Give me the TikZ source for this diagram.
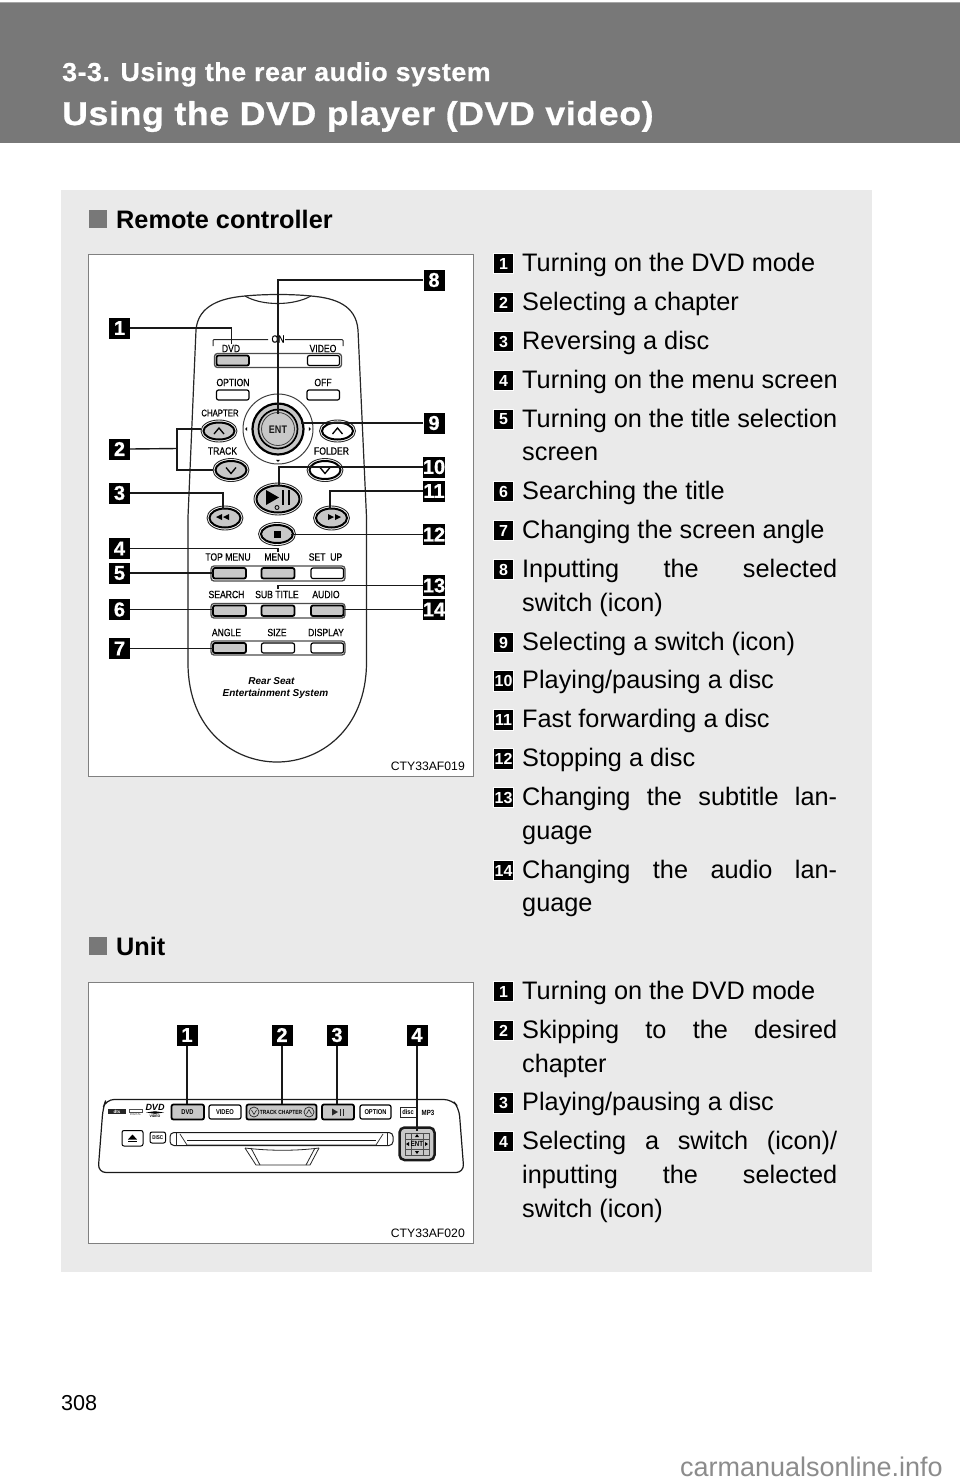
\documentclass[tikz,border=0pt]{standalone}
\usepackage{fontspec}
\setmainfont{Liberation Sans}
\newfontfamily\titlef[FakeStretch=1.08,LetterSpace=2,FakeBold=0.8]{Liberation Sans Bold}
\newfontfamily\subf[FakeStretch=1.03,LetterSpace=2,FakeBold=0.6]{Liberation Sans Bold}
\newfontfamily\condf[FakeStretch=0.82,FakeBold=0.4]{Liberation Sans}
\newfontfamily\condb[FakeStretch=0.82]{Liberation Sans Bold}
\newfontfamily\badgef[FakeBold=0.8]{Liberation Sans Bold}
\newcommand{\fs}[1]{\fontsize{#1pt}{#1pt}\selectfont}
\definecolor{bandc}{HTML}{787878}
\definecolor{panelc}{HTML}{EAEAEA}
\definecolor{framec}{HTML}{808080}
\definecolor{keyc}{HTML}{C8C8C8}
\tikzset{
  lab/.style={inner sep=0pt,font=\condf\fs{10.5},text=black},
  listtext/.style={anchor=base west,inner sep=0pt,font=\fs{25.3}},
  head/.style={anchor=base west,inner sep=0pt,font=\bfseries\fs{25.3}},
  listbadge/.style={fill=black,draw=white,line width=0.6pt,minimum size=20.5pt,inner sep=0pt,text=white,font=\bfseries\fs{16}},
  picbadge/.style={fill=black,draw=none,minimum size=21pt,inner sep=0pt,text=white,font=\badgef\fs{20}},
  lead/.style={draw=black!90,line width=1.4pt},
  framebox/.style={draw=framec,fill=white,line width=1pt},
  keyg/.style={draw=black,fill=keyc,line width=1.8pt,rounded corners=2pt},
  keyw/.style={draw=black,fill=white,line width=1.2pt,rounded corners=2pt},
  strip/.style={draw=black!70,fill=white,line width=1.3pt,rounded corners=3pt},
  codetxt/.style={inner sep=0pt,font=\fs{12.2},text=black},
}
\newcommand{\itemln}[5][listtext]{% name y num text
  \node[listbadge] (#2b) at (503.5,#3-7.5) {#4};
  \node[#1] (#2t) at (522,#3) {#5};}
\newcommand{\contln}[3]{\node[listtext] (#1) at (522,#2) {#3};}
\newcommand{\itemjust}[4]{%
  \node[listbadge] (#1b) at (503.5,#2-7.5) {#3};
  \node[listtext] (#1t) at (522,#2) {\makebox[315pt][s]{#4}};}
\newcommand{\ovalbtn}[5]{% x y rx ry fill
  \draw[black!85,line width=0.9pt,fill=white] (#1,#2) circle[x radius=#3,y radius=#4];
  \draw[black,line width=2pt,fill=#5] (#1,#2) circle[x radius=#3-2.5,y radius=#4-2.5];}
\begin{document}
\begin{tikzpicture}[x=1pt,y=-1pt]
\useasboundingbox (0,0) rectangle (960,1484);
\fill[white] (0,0) rectangle (960,1484);
% header band
\fill[black!35] (0,2) rectangle (960,3);
\fill[bandc] (0,3) rectangle (960,143);
\node[anchor=base west,inner sep=0pt,text=white,font=\subf\fs{26}] (sub) at (62,81) {3-3. Using the rear audio system};
\node[anchor=base west,inner sep=0pt,text=white,font=\titlef\fs{33}] (title) at (62,125) {Using the DVD player (DVD video)};
% panel
\fill[panelc] (61,190) rectangle (872,1272);
\fill[bandc] (89,210) rectangle (107,228);
\node[head] (h1) at (116,228) {Remote controller};
\fill[bandc] (89,937) rectangle (107,955);
\node[head] (h2) at (116,955) {Unit};
% list 1
\itemln{a}{271}{1}{Turning on the DVD mode}
\itemln{b}{310}{2}{Selecting a chapter}
\itemln{c}{349}{3}{Reversing a disc}
\itemln{d}{388}{4}{Turning on the menu screen}
\itemjust{e}{427}{5}{Turning on the title selection}
\contln{e2}{460}{screen}
\itemln{f}{499}{6}{Searching the title}
\itemln{g}{538}{7}{Changing the screen angle}
\itemjust{h}{577}{8}{Inputting the selected}
\contln{h2}{611}{switch (icon)}
\itemln{i}{650}{9}{Selecting a switch (icon)}
\itemln{j}{688.5}{10}{Playing/pausing a disc}
\itemln{k}{727.5}{11}{Fast forwarding a disc}
\itemln{l}{766.5}{12}{Stopping a disc}
\itemjust{m}{805}{13}{Changing the subtitle lan-}
\contln{m2}{839}{guage}
\itemjust{n}{878}{14}{Changing the audio lan-}
\contln{n2}{911.5}{guage}
% list 2
\itemln{p}{999}{1}{Turning on the DVD mode}
\itemjust{q}{1038}{2}{Skipping to the desired}
\contln{q2}{1072}{chapter}
\itemln{r}{1110.5}{3}{Playing/pausing a disc}
\itemjust{s}{1149}{4}{Selecting a switch (icon)/}
\node[listtext] (s2) at (522,1183) {\makebox[315pt][s]{inputting the selected}};
\contln{s3}{1217}{switch (icon)}
% frames
\draw[framebox] (88,254.5) rectangle (473,776);
\draw[framebox] (88,982) rectangle (473,1243);
% ---------- remote
\draw[black!85,line width=1.2pt]
  (188,663) -- (188,517) -- (196,330)
  .. controls (198,305) and (222,298) .. (245,296)
  .. controls (265,294) and (292,294) .. (311,296)
  .. controls (335,298) and (356,305) .. (358,330)
  -- (366.5,517) -- (366.5,663)
  .. controls (366,730) and (320,762) .. (277,762)
  .. controls (234,762) and (188,730) .. (188,663);
\draw[black!85,line width=1.1pt] (245,296) .. controls (262,306) and (293,306) .. (311,296);
% ON bracket
\draw[black!85,line width=1pt,rounded corners=1pt] (213,346) -- (213,339.5) -- (268,339.5);
\draw[black!85,line width=1pt,rounded corners=1pt] (343,346) -- (343,339.5) -- (285,339.5);
\node[lab] (lon) at (278,339) {ON};
\node[lab] (ldvd) at (231,348.5) {DVD};
\node[lab] (lvideo) at (323,348.5) {VIDEO};
\draw[strip] (214.5,353.5) rectangle (341.5,367.5);
\draw[keyg] (216.5,355.5) rectangle (249,365.5);
\draw[keyw] (307.5,355.5) rectangle (339.5,365.5);
\node[lab] (lopt) at (233,382.5) {OPTION};
\node[lab] (loff) at (323,382.5) {OFF};
\draw[keyw] (216.5,390) rectangle (249,400);
\draw[keyw] (307,390) rectangle (339.5,400);
% dial
\draw[black!75,line width=1pt,fill=white] (278,429) circle[radius=35];
\draw[black,line width=2.2pt,fill=keyc] (278,429) circle[radius=25.5];
\draw[black,line width=1.7pt,fill=keyc] (278,429) circle[radius=19.5];
\draw[black!75,line width=0.8pt] (278,429) circle[radius=16.5];
\node[inner sep=0pt,font=\condb\fs{11},text=black!90] (lent) at (278,429.5) {ENT};
\fill (245,429) -- (247.2,427) -- (247.2,431) -- cycle;
\fill (311,429) -- (308.8,427) -- (308.8,431) -- cycle;
\fill (278,462) -- (276,459.8) -- (280,459.8) -- cycle;
\node[inner sep=0pt,font=\condf\fs{9.5},text=black] (lchap) at (220,413) {CHAPTER};
\node[lab] (ltrack) at (222.5,451) {TRACK};
\node[lab] (lfold) at (331.5,451) {FOLDER};
% oval keys
\ovalbtn{219}{431}{18}{11}{keyc}
\draw[black,line width=1.3pt] (214,434) -- (219,428) -- (224,434);
\ovalbtn{231}{470}{18}{11.5}{keyc}
\draw[black,line width=1.3pt] (226,467.5) -- (231,473.5) -- (236,467.5);
\ovalbtn{337.5}{431}{18}{11}{white}
\draw[black,line width=1.3pt] (332.5,434) -- (337.5,428) -- (342.5,434);
\ovalbtn{325}{470}{18}{11.5}{white}
\draw[black,line width=1.3pt] (320,467.5) -- (325,473.5) -- (330,467.5);
\ovalbtn{278}{499}{24}{16}{keyc}
\fill (266,490) -- (266,505) -- (279,497.5) -- cycle;
\fill (282,490) rectangle (284.2,505);
\fill (288,490) rectangle (290.2,505);
\draw[black,line width=0.8pt] (277,507.5) circle[radius=2];
\ovalbtn{225}{518}{18}{12}{keyc}
\fill (222,514) -- (222,520) -- (216,517) -- cycle;
\fill (229,514) -- (229,520) -- (223,517) -- cycle;
\ovalbtn{331.5}{518}{18}{12}{keyc}
\fill (328,514) -- (328,520) -- (334,517) -- cycle;
\fill (335,514) -- (335,520) -- (341,517) -- cycle;
\ovalbtn{277}{534}{18.5}{11.5}{keyc}
\fill (273.5,530.5) rectangle (280.5,537.5);
% rows
\node[lab] (l1a) at (228,557) {TOP MENU};
\node[lab] (l1b) at (277,557) {MENU};
\node[lab] (l1c) at (325.5,557) {SET\ \ UP};
\draw[strip] (211,566) rectangle (345,581);
\draw[keyg] (213,568) rectangle (246,578.5);
\draw[keyg] (261.5,568) rectangle (294.5,578.5);
\draw[keyw] (311,568) rectangle (343.5,578.5);
\node[lab] (l2a) at (226.5,594.5) {SEARCH};
\node[lab] (l2b) at (277,594.5) {SUB TITLE};
\node[lab] (l2c) at (326,594.5) {AUDIO};
\draw[strip] (211,603.5) rectangle (345,618);
\draw[keyg] (213,605.5) rectangle (246,616);
\draw[keyg] (261.5,605.5) rectangle (294.5,616);
\draw[keyg] (311,605.5) rectangle (343.5,616);
\node[lab] (l3a) at (226.5,632.5) {ANGLE};
\node[lab] (l3b) at (277,632.5) {SIZE};
\node[lab] (l3c) at (326,632.5) {DISPLAY};
\draw[strip] (211,641) rectangle (345,655);
\draw[keyg] (213,643) rectangle (246,653);
\draw[keyw] (261.5,643) rectangle (294.5,653);
\draw[keyw] (311,643) rectangle (343.5,653);
\node[inner sep=0pt,font=\bfseries\itshape\fs{10},text=black] (rs1) at (271.5,681) {Rear Seat};
\node[inner sep=0pt,font=\bfseries\itshape\fs{10},text=black] (rs2) at (275.5,694) {Entertainment System};
\node[codetxt,anchor=east] (code1) at (465,766.5) {CTY33AF019};
% remote badges
\node[picbadge] (b1) at (119.5,328) {1};
\node[picbadge] (b2) at (119.5,449) {2};
\node[picbadge] (b3) at (119.5,493) {3};
\node[picbadge] (b4) at (119.5,548.5) {4};
\node[picbadge] (b5) at (119.5,573) {5};
\node[picbadge] (b6) at (119.5,609.5) {6};
\node[picbadge] (b7) at (119.5,648.5) {7};
\node[picbadge] (b8) at (434,280) {8};
\node[picbadge] (b9) at (434,423) {9};
\node[picbadge] (b10) at (434,467) {10};
\node[picbadge] (b11) at (434,491) {11};
\node[picbadge] (b12) at (434,534.5) {12};
\node[picbadge] (b13) at (434,585.5) {13};
\node[picbadge] (b14) at (434,609.5) {14};
% targets
\coordinate (t1) at (231.5,343.5);
\coordinate (t2a) at (201,429);
\coordinate (t2b) at (213,470);
\coordinate (t2m) at (177,448.5);
\coordinate (t3) at (223,509);
\coordinate (t4) at (278,552);
\coordinate (t5) at (213,573);
\coordinate (t6) at (213,609.5);
\coordinate (t7) at (213,648.5);
\coordinate (t8) at (278,414);
\coordinate (t9) at (301,423);
\coordinate (t10) at (279,486);
\coordinate (t11) at (330,509);
\coordinate (t12) at (291,534.5);
\coordinate (t13) at (278,589);
\coordinate (t14) at (343,609.5);
\draw[lead] (b1.east) -| (t1);
\draw[lead] (b2.east) -- (t2m);
\draw[lead] (t2a) -| (t2m) |- (t2b);
\draw[lead] (b3.east) -| (t3);
\draw[lead] (b4.east) -| (t4);
\draw[lead] (b5.east) -- (t5);
\draw[lead] (b6.east) -- (t6);
\draw[lead] (b7.east) -- (t7);
\draw[lead] (b8.west) -| (t8);
\draw[lead] (b9.west) -- (t9);
\draw[lead] (b10.west) -| (t10);
\draw[lead] (b11.west) -| (t11);
\draw[lead] (b12.west) -- (t12);
\draw[lead] (b13.west) -| (t13);
\draw[lead] (b14.west) -- (t14);
% ---------- unit
\draw[black!90,line width=1.2pt,rounded corners=8pt]
  (98,1172.5) -- (103,1108) -- (106,1099.5) -- (452,1099.5) -- (459,1108) -- (464,1172.5) -- cycle;
\draw[keyg] (171.5,1104.5) rectangle (204,1119.5);
\draw[keyw] (209,1105) rectangle (241,1119);
\draw[keyg] (246.5,1104.5) rectangle (316.5,1119.5);
\draw[keyg] (322,1104.5) rectangle (354,1119.5);
\draw[keyw] (360,1105) rectangle (391,1119);
\tikzset{ulab/.style={inner sep=0pt,font=\condb\fs{7},text=black}}
\node[ulab] (udvd) at (187.5,1112) {DVD};
\node[ulab] (uvideo) at (225,1112) {VIDEO};
\node[ulab,font=\condb\fs{6}] (utrack) at (281,1112) {TRACK CHAPTER};
\draw[black!85,line width=0.7pt] (254,1112) circle[radius=5];
\draw[black!85,line width=0.7pt] (309,1112) circle[radius=5];
\draw[black!85,line width=0.6pt] (251.5,1110) -- (254,1114.5) -- (256.5,1110);
\draw[black!85,line width=0.6pt] (306.5,1114) -- (309,1109.5) -- (311.5,1114);
\fill[black!85] (332,1108.5) -- (332,1115.5) -- (338,1112) -- cycle;
\fill[black!85] (340,1108.5) rectangle (341,1115.5);
\fill[black!85] (343,1108.5) rectangle (344,1115.5);
\node[ulab] (uopt) at (375.5,1112) {OPTION};
% logos
\fill[black!85] (108,1109) rectangle (126,1114);
\node[inner sep=0pt,text=white,font=\bfseries\fs{4.5}] (ldts) at (117,1111.5) {dts};
\draw[black!70,line width=0.5pt] (129,1109) rectangle (142,1112);
\node[inner sep=0pt,text=black!70,font=\fs{3}] (ldol) at (135.5,1114) {DIGITAL};
\node[inner sep=0pt,font=\bfseries\itshape\fs{9}] (ldvdl) at (155,1107.5) {DVD};
\fill (146,1112.5) -- (155,1111.2) -- (164,1112.5) -- (155,1113.8) -- cycle;
\node[inner sep=0pt,font=\bfseries\fs{3.5}] (lvidl) at (155,1116) {VIDEO};
\draw[black!85,line width=0.7pt] (400,1107) rectangle (416,1117);
\node[inner sep=0pt,font=\condb\fs{7}] (ldisc) at (408,1111.5) {disc};
\node[inner sep=0pt,font=\condb\fs{7.5}] (lmp3) at (428,1112.5) {MP3};
% eject, disc
\draw[keyw,line width=1pt] (122,1130.5) rectangle (143,1146);
\fill (132.5,1134.5) -- (128,1139.5) -- (137,1139.5) -- cycle;
\fill (128,1141) rectangle (137,1142.3);
\draw[keyw,line width=1pt] (150,1132) rectangle (165.5,1143);
\node[inner sep=0pt,font=\condb\fs{5.5}] (udisc) at (157.7,1137.5) {DISC};
% slot
\draw[black!90,line width=1pt,rounded corners=4pt] (170,1132.5) rectangle (393,1145.5);
\draw[black!85,line width=0.8pt] (176,1132.5) -- (176,1145.5);
\draw[black!85,line width=0.8pt] (387,1132.5) -- (387,1145.5);
\draw[black!85,line width=0.7pt] (180,1134) -- (187,1145) -- (376,1145) -- (383,1134);
\draw[black!90,line width=1.3pt] (187,1140.5) -- (376,1140.5);
\draw[black!85,line width=0.8pt] (245,1148) -- (256,1165) -- (310,1165) -- (319,1148);
\draw[black!85,line width=0.8pt] (251,1148) -- (260,1165);
\draw[black!85,line width=0.8pt] (315,1148) -- (306,1165);
\draw[black!85,line width=0.8pt] (245,1148) .. controls (270,1151) and (296,1151) .. (319,1148);
% pad
\draw[black!90,fill=keyc,line width=2.5pt,rounded corners=5pt] (399.5,1127.5) rectangle (434.5,1160);
\draw[black!70,line width=0.6pt] (405,1133) rectangle (429,1155);
\draw[black!70,line width=0.6pt] (411,1133) -- (411,1155) (423,1133) -- (423,1155) (405,1139) -- (429,1139) (405,1149) -- (429,1149);
\node[inner sep=0pt,font=\condb\fs{7.5}] (uent) at (417,1144) {ENT};
\fill (417,1134) -- (415,1137) -- (419,1137) -- cycle;
\fill (417,1154) -- (415,1151) -- (419,1151) -- cycle;
\fill (406,1144) -- (409,1142) -- (409,1146) -- cycle;
\fill (428,1144) -- (425,1142) -- (425,1146) -- cycle;
\node[codetxt,anchor=east] (code2) at (465,1233) {CTY33AF020};
% unit badges
\node[picbadge] (u1) at (187,1035) {1};
\node[picbadge] (u2) at (282,1035) {2};
\node[picbadge] (u3) at (337,1035) {3};
\node[picbadge] (u4) at (417,1035) {4};
\coordinate (v1) at (187,1104);
\coordinate (v2) at (282,1104);
\coordinate (v3) at (337,1104);
\coordinate (v4) at (417,1131);
\draw[lead] (u1.south) -- (v1);
\draw[lead] (u2.south) -- (v2);
\draw[lead] (u3.south) -- (v3);
\draw[lead] (u4.south) -- (v4);
% footer
\node[anchor=base west,inner sep=0pt,font=\fs{21.6}] (page) at (61,1410) {308};
\node[anchor=base east,inner sep=0pt,font=\fs{27},text=black!45] (wm) at (943,1476) {carmanualsonline.info};
\end{tikzpicture}
\end{document}
